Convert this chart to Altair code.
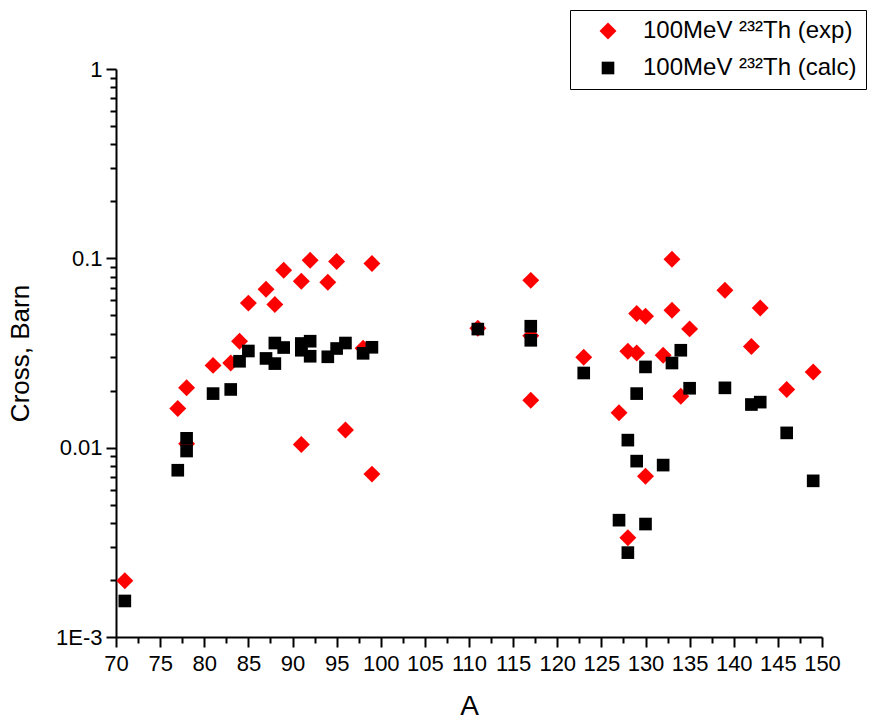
import altair as alt
import pandas as pd

# --- data ---
exp_A = [71, 77, 78, 78, 81, 83, 84, 85, 87, 88, 89, 91, 91, 92, 94, 95, 96, 98, 99, 99,
         111, 117, 117, 117, 123, 127, 128, 128, 129, 129, 130, 130, 132, 133, 133, 134,
         135, 139, 142, 143, 146, 149]
exp_val = [0.00198, 0.0161, 0.0207, 0.0105, 0.0272, 0.0280, 0.0365, 0.058, 0.0686, 0.057,
           0.0865, 0.0756, 0.0104, 0.0976, 0.0747, 0.0963, 0.0124, 0.0335, 0.094, 0.00725,
           0.0427, 0.0765, 0.039, 0.0178, 0.0300, 0.0153, 0.0323, 0.00334, 0.0511, 0.0316,
           0.0494, 0.00707, 0.0308, 0.0988, 0.0532, 0.0187, 0.0424, 0.0678, 0.0342, 0.0547,
           0.0203, 0.0251]

calc_A = [71, 77, 78, 78, 81, 83, 84, 85, 87, 88, 88, 89, 91, 91, 92, 92, 94, 95, 96, 98,
          99, 111, 117, 117, 123, 127, 128, 128, 129, 129, 130, 130, 132, 133, 134, 135,
          139, 142, 143, 146, 149]
calc_val = [0.00155, 0.0076, 0.0112, 0.0096, 0.0193, 0.0203, 0.0286, 0.0324, 0.0296, 0.0357,
            0.0278, 0.0338, 0.0355, 0.0327, 0.0365, 0.0304, 0.0302, 0.0334, 0.0357, 0.0315,
            0.0339, 0.0423, 0.0438, 0.0369, 0.0248, 0.00414, 0.01096, 0.00279, 0.0193, 0.00849,
            0.0267, 0.00395, 0.00809, 0.0280, 0.0327, 0.0206, 0.0207, 0.0169, 0.0174, 0.01197,
            0.00668]

series_names = ["100MeV \u00b2\u00b3\u00b2Th (exp)", "100MeV \u00b2\u00b3\u00b2Th (calc)"]
series_colors = ["#ff0000", "#000000"]
series_shapes = ["M-1.3,0L0,-1.3L1.3,0L0,1.3Z", "M-0.97,-0.97L0.97,-0.97L0.97,0.97L-0.97,0.97Z"]

x_ticks = [70, 72.5, 75, 77.5, 80, 82.5, 85, 87.5, 90, 92.5, 95, 97.5, 100, 102.5, 105,
           107.5, 110, 112.5, 115, 117.5, 120, 122.5, 125, 127.5, 130, 132.5, 135, 137.5,
           140, 142.5, 145, 147.5, 150]
y_ticks = [0.001, 0.002, 0.003, 0.004, 0.005, 0.006, 0.007, 0.008, 0.009,
           0.01, 0.02, 0.03, 0.04, 0.05, 0.06, 0.07, 0.08, 0.09,
           0.1, 0.2, 0.3, 0.4, 0.5, 0.6, 0.7, 0.8, 0.9, 1]

df = pd.concat([
    pd.DataFrame({"A": exp_A, "Cross": exp_val, "series": series_names[0]}),
    pd.DataFrame({"A": calc_A, "Cross": calc_val, "series": series_names[1]}),
], ignore_index=True)

FONT = "Liberation Sans, Arial, sans-serif"

y_major = "abs(log(datum.value)/LN10 - round(log(datum.value)/LN10)) < 1e-6"
x_major = "datum.value % 5 == 0"

common_axis = dict(grid=False, labelFont=FONT, titleFont=FONT, labelColor="#000000",
                   titleColor="#000000", domainColor="#000000", tickColor="#000000",
                   domainWidth=2, tickWidth=2, labelFlush=False, labelOverlap=False,
                   titleFontWeight="normal")

chart = alt.Chart(df).mark_point(filled=True, opacity=1, size=170, strokeWidth=0).encode(
    x=alt.X("A:Q", title="A",
            scale=alt.Scale(domain=[70, 150], nice=False, zero=False),
            axis=alt.Axis(values=x_ticks, labelExpr="datum.value % 5 == 0 ? datum.label : ''",
                          tickSize={"condition": {"test": x_major, "value": 10}, "value": 6},
                          labelFontSize=22, labelPadding=6,
                          titleFontSize=28, titlePadding=18, **common_axis)),
    y=alt.Y("Cross:Q", title="Cross,  Barn",
            scale=alt.Scale(type="log", domain=[0.001, 1], nice=False),
            axis=alt.Axis(values=y_ticks,
                          labelExpr="datum.value == 1 ? '1' : datum.value == 0.1 ? '0.1' : datum.value == 0.01 ? '0.01' : datum.value == 0.001 ? '1E-3' : ''",
                          tickSize={"condition": {"test": y_major, "value": 10}, "value": 6},
                          labelFontSize=22, labelPadding=4,
                          titleFontSize=26, titlePadding=22, **common_axis)),
    color=alt.Color("series:N", scale=alt.Scale(domain=series_names, range=series_colors),
                    legend=alt.Legend(title=None, orient="none", legendX=454, legendY=-59,
                                      labelFontSize=24, symbolSize=170, symbolOffset=17,
                                      labelOffset=23, rowPadding=13, padding=9,
                                      labelLimit=0,
                                      labelExpr="datum.label + '\u00a0\u00a0\u00a0\u00a0\u00a0\u00a0'",
                                      strokeColor="#000000", fillColor="#ffffff",
                                      symbolStrokeWidth=0, labelFont=FONT,
                                      labelColor="#000000")),
    shape=alt.Shape("series:N", scale=alt.Scale(domain=series_names, range=series_shapes)),
    order=alt.Order("idx:Q"),
).transform_window(idx="row_number()").properties(
    width=706, height=568,
    background="#ffffff",
    autosize=alt.AutoSizeParams(type="none"),
    padding={"left": 116, "top": 69, "right": 61, "bottom": 89},
).configure_view(stroke=None)

chart.save("out.html", embed_options={"renderer": "svg", "actions": False})
